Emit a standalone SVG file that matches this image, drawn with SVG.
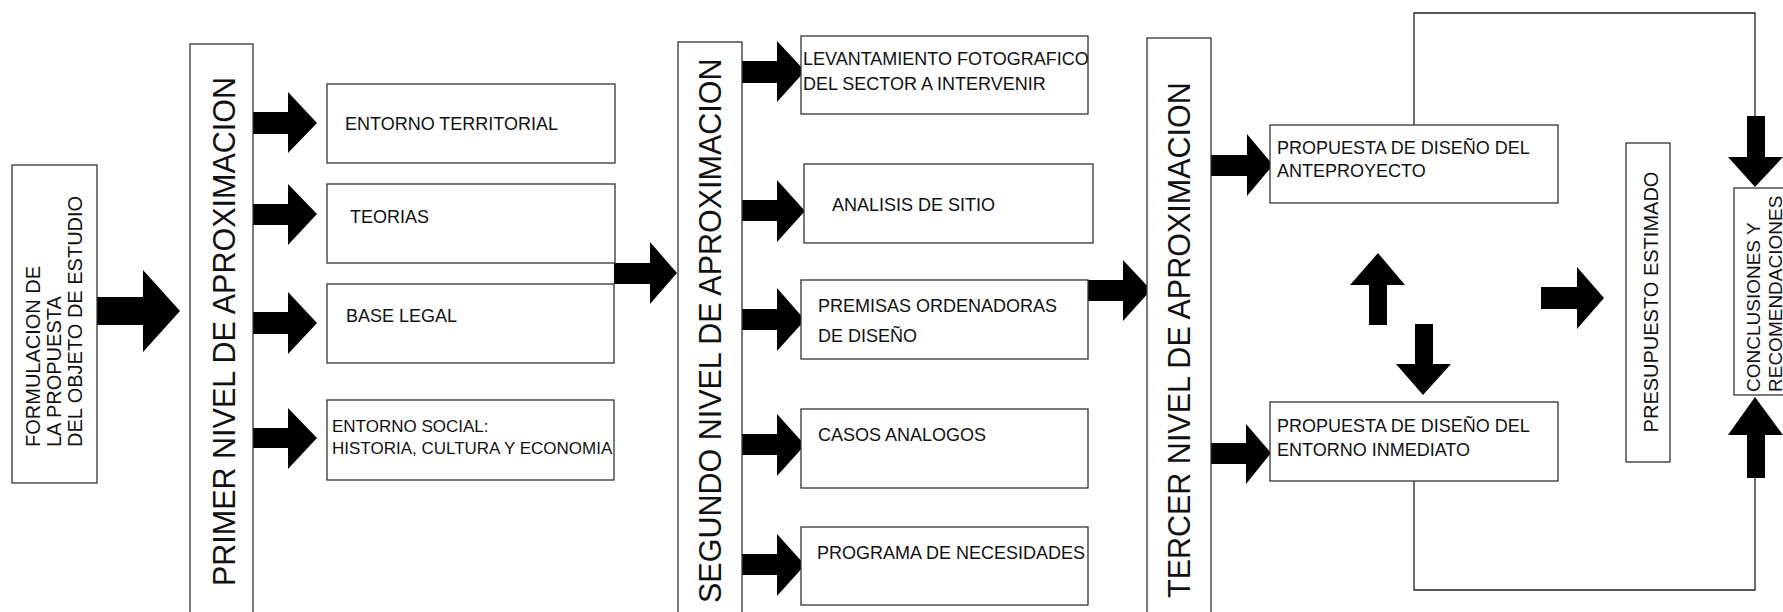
<svg xmlns="http://www.w3.org/2000/svg" width="1783" height="612" viewBox="0 0 1783 612">
<style>
.box{fill:#fff;stroke:#333;stroke-width:1.3}
.t{font-family:"Liberation Sans",Arial,sans-serif;font-size:18px;fill:#111}
.big{font-size:30.5px}
.v{font-size:20px}
.arr{fill:#000}
.line{fill:none;stroke:#222;stroke-width:1.3}
</style>
<rect width="1783" height="612" fill="#fff"/>
<g id="connectors">
<path class="line" d="M1414,125 V13 H1755 V116"/>
<path class="line" d="M1414,481 V590 H1755 V478"/>
<path class="arr" d="M97,297 H143 V270 L180,311 L143,352 V325 H97 Z"/>
<path class="arr" d="M253,112 H288 V92 L317,123 L288,153 V134 H253 Z"/>
<path class="arr" d="M253,204 H288 V184 L317,214 L288,245 V225 H253 Z"/>
<path class="arr" d="M252,312 H288 V292 L317,323 L288,354 V334 H252 Z"/>
<path class="arr" d="M253,428 H288 V408 L317,438 L288,469 V448 H253 Z"/>
<path class="arr" d="M614,263 H650 V242 L677,273 L650,304 V284 H614 Z"/>
<path class="arr" d="M742,61 H777 V41 L805,71 L777,102 V83 H742 Z"/>
<path class="arr" d="M742,200 H777 V180 L805,211 L777,242 V221 H742 Z"/>
<path class="arr" d="M742,309 H777 V288 L805,320 L777,351 V330 H742 Z"/>
<path class="arr" d="M742,434 H777 V414 L805,445 L777,476 V455 H742 Z"/>
<path class="arr" d="M742,554 H777 V534 L805,565 L777,596 V575 H742 Z"/>
<path class="arr" d="M1088,280 H1123 V260 L1151,290 L1123,321 V301 H1088 Z"/>
<path class="arr" d="M1211,155 H1247 V134 L1273,165 L1247,196 V176 H1211 Z"/>
<path class="arr" d="M1211,443 H1246 V424 L1271,453 L1246,484 V464 H1211 Z"/>
<path class="arr" d="M1541,287 H1577 V267 L1604,298 L1577,329 V309 H1541 Z"/>
<path class="arr" d="M1369,325 V285 H1350 L1378,253 L1405,285 H1387 V325 Z"/>
<path class="arr" d="M1415,324 V364 H1396 L1423,395 L1451,364 H1433 V324 Z"/>
<path class="arr" d="M1747,116 V157 H1728 L1755,187 L1783,157 H1765 V116 Z"/>
<path class="arr" d="M1747,478 V435 H1728 L1755,397 L1783,435 H1765 V478 Z"/>
</g>
<g id="formulacion">
<rect class="box" x="12" y="165" width="85" height="318"/>
<text class="t v" transform="rotate(-90 40 447)" x="40" y="447">FORMULACION DE</text>
<text class="t v" transform="rotate(-90 61 447)" x="61" y="447">LA PROPUESTA</text>
<text class="t v" transform="rotate(-90 82 447)" x="82" y="447">DEL OBJETO DE ESTUDIO</text>
</g>
<g id="primer">
<rect class="box" x="190" y="44" width="63" height="580"/>
<text class="t big" transform="rotate(-90 235 586)" x="235" y="586">PRIMER NIVEL DE APROXIMACION</text>
</g>
<g id="entorno-territorial">
<rect class="box" x="327" y="84" width="288" height="79"/>
<text class="t" x="345" y="130">ENTORNO TERRITORIAL</text>
</g>
<g id="teorias">
<rect class="box" x="327" y="184" width="288" height="79"/>
<text class="t" x="350" y="223">TEORIAS</text>
</g>
<g id="base-legal">
<rect class="box" x="327" y="284" width="287" height="79"/>
<text class="t" x="346" y="322">BASE LEGAL</text>
</g>
<g id="entorno-social">
<rect class="box" x="327" y="400" width="287" height="80"/>
<text class="t" style="font-size:17px" x="332" y="432">ENTORNO SOCIAL:</text>
<text class="t" style="font-size:17px" x="332" y="454">HISTORIA, CULTURA Y ECONOMIA</text>
</g>
<g id="segundo">
<rect class="box" x="678" y="42" width="64" height="582"/>
<text class="t big" transform="rotate(-90 721 603)" x="721" y="603">SEGUNDO NIVEL DE APROXIMACION</text>
</g>
<g id="levantamiento">
<rect class="box" x="801" y="36" width="287" height="78"/>
<text class="t" x="803" y="65">LEVANTAMIENTO FOTOGRAFICO</text>
<text class="t" x="803" y="90">DEL SECTOR A INTERVENIR</text>
</g>
<g id="analisis">
<rect class="box" x="804" y="164" width="289" height="79"/>
<text class="t" x="832" y="211">ANALISIS DE SITIO</text>
</g>
<g id="premisas">
<rect class="box" x="801" y="280" width="287" height="79"/>
<text class="t" x="818" y="312">PREMISAS ORDENADORAS</text>
<text class="t" x="818" y="342">DE DISEÑO</text>
</g>
<g id="casos">
<rect class="box" x="801" y="409" width="287" height="79"/>
<text class="t" x="818" y="441">CASOS ANALOGOS</text>
</g>
<g id="programa">
<rect class="box" x="801" y="527" width="287" height="78"/>
<text class="t" x="817" y="559">PROGRAMA DE NECESIDADES</text>
</g>
<g id="tercer">
<rect class="box" x="1147" y="38" width="64" height="586"/>
<text class="t big" transform="rotate(-90 1190 598)" x="1190" y="598">TERCER NIVEL DE APROXIMACION</text>
</g>
<g id="propuesta-anteproyecto">
<rect class="box" x="1270" y="125" width="288" height="78"/>
<text class="t" x="1277" y="154">PROPUESTA DE DISEÑO DEL</text>
<text class="t" x="1277" y="177">ANTEPROYECTO</text>
</g>
<g id="propuesta-entorno">
<rect class="box" x="1270" y="402" width="288" height="79"/>
<text class="t" x="1277" y="432">PROPUESTA DE DISEÑO DEL</text>
<text class="t" x="1277" y="456">ENTORNO INMEDIATO</text>
</g>
<g id="presupuesto">
<rect class="box" x="1626" y="143" width="44" height="319"/>
<text class="t v" text-anchor="middle" transform="rotate(-90 1658 302)" x="1658" y="302">PRESUPUESTO ESTIMADO</text>
</g>
<g id="conclusiones">
<rect class="box" x="1734" y="188" width="50" height="207"/>
<text class="t" style="font-size:19px" transform="rotate(-90 1760 392)" x="1760" y="392">CONCLUSIONES Y</text>
<text class="t" style="font-size:19px" transform="rotate(-90 1782 392)" x="1782" y="392">RECOMENDACIONES</text>
</g>
</svg>
